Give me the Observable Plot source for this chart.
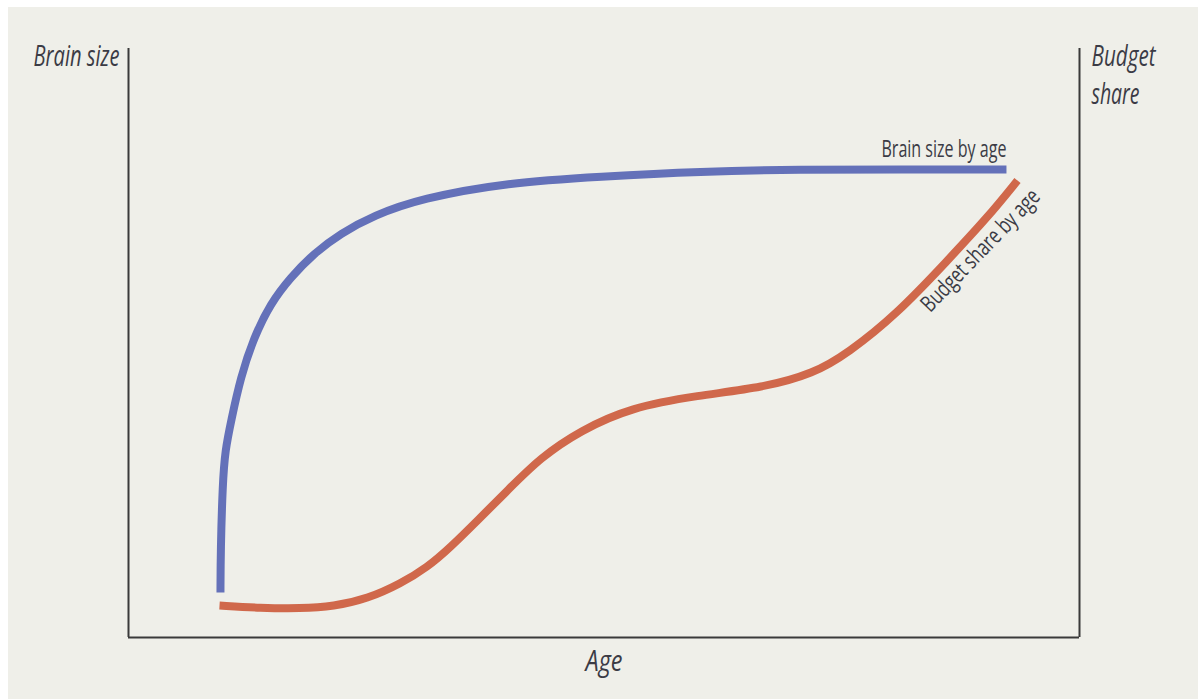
<!DOCTYPE html>
<html>
<head>
<meta charset="utf-8">
<script src="https://cdn.jsdelivr.net/npm/d3@7"></script>
<script src="https://cdn.jsdelivr.net/npm/@observablehq/plot@0.6"></script>
<style>
  html, body { margin: 0; padding: 0; background: #ffffff; }
  #chart { position: absolute; left: 8px; top: 7px; width: 1190px; height: 692px; background: #efefe9; overflow: hidden; }
  #chart svg { display: block; }
</style>
</head>
<body>
<div id="chart"></div>
<script>
// Age (0–100 relative units) vs brain size / budget share (0–100 relative units)
const brainAge  = [9.67, 9.69, 9.90, 10.16, 10.80, 11.78, 13.18, 14.93, 17.03, 19.48, 22.29, 25.79, 30.70, 39.85, 49.63, 60.15, 70.66, 81.18, 92.32];
const brainSize = [7.64, 14.77, 26.15, 31.75, 36.84, 44.14, 50.93, 56.71, 61.12, 65.20, 68.59, 71.65, 74.53, 77.25, 78.27, 79.12, 79.46, 79.46, 79.46];

const budgetAge   = [9.57, 13.88, 18.09, 21.56, 25.13, 28.60, 31.44, 33.86, 36.70, 39.85, 43.32, 47.53, 52.79, 59.83, 66.77, 72.03, 75.60, 80.86, 86.12, 90.33, 93.48];
const budgetShare = [5.43, 5.01, 4.92, 5.26, 6.57, 9.12, 11.94, 15.33, 19.86, 24.96, 30.56, 35.14, 39.05, 41.09, 42.44, 44.82, 48.22, 55.01, 64.01, 71.31, 77.59];

const seriesLabels = ["Brain size by age", "Budget share by age"];
const axisTitles = { left: "Brain size", right: "Budget\nshare", bottom: "Age" };

const brain = brainAge.map((a, i) => ({age: a, value: brainSize[i]}));
const budget = budgetAge.map((a, i) => ({age: a, value: budgetShare[i]}));
const rightLines = axisTitles.right.split("\n");

const FONT = "'Open Sans', 'Noto Sans', sans-serif";
const INK = "#3b3b45";
const AX = "#3a3a3a";

const chart = Plot.plot({
  width: 1190,
  height: 692,
  marginLeft: 120,
  marginRight: 119,
  marginTop: 41,
  marginBottom: 62,
  style: { background: "transparent", fontFamily: FONT, overflow: "visible" },
  x: { domain: [0, 100], axis: null },
  y: { domain: [0, 100], axis: null },
  marks: [
    Plot.ruleX([0, 100], { stroke: AX, strokeWidth: 2 }),
    Plot.ruleY([0], { stroke: AX, strokeWidth: 2 }),
    Plot.line(budget, { x: "age", y: "value", curve: "basis", stroke: "#d0684b", strokeWidth: 8, strokeLinecap: "butt", strokeLinejoin: "round" }),
    Plot.line(brain, { x: "age", y: "value", curve: "basis", stroke: "#6471b9", strokeWidth: 8, strokeLinecap: "butt", strokeLinejoin: "round" }),
    // series labels
    Plot.text([brain[brain.length - 1]], { x: "age", y: "value", text: () => seriesLabels[0], textAnchor: "end", lineAnchor: "bottom", dy: -12, fontSize: 23, fill: INK }),
    Plot.text([budget[budget.length - 2]], { x: "age", y: "value", text: () => seriesLabels[1], textAnchor: "middle", lineAnchor: "middle", rotate: -46, dx: -7, dy: 33, fontSize: 23, fill: INK }),
    // axis titles
    Plot.text([axisTitles.left], { frameAnchor: "top-left", text: d => d, textAnchor: "end", lineAnchor: "bottom", dx: -9, dy: 17, fontSize: 29, fontStyle: "italic", fill: INK }),
    Plot.text([rightLines[0]], { frameAnchor: "top-right", text: d => d, textAnchor: "start", lineAnchor: "bottom", dx: 12, dy: 17, fontSize: 29, fontStyle: "italic", fill: INK }),
    Plot.text([rightLines[1]], { frameAnchor: "top-right", text: d => d, textAnchor: "start", lineAnchor: "bottom", dx: 12, dy: 55, fontSize: 29, fontStyle: "italic", fill: INK }),
    Plot.text([axisTitles.bottom], { frameAnchor: "bottom", text: d => d, textAnchor: "middle", lineAnchor: "bottom", dy: 33, fontSize: 29, fontStyle: "italic", fill: INK })
  ]
});
// condense the type to the reference's narrow face
const widths = {"Brain size": 86, "Budget": 64, "share": 48, "Age": 37, "Brain size by age": 125, "Budget share by age": 160};
d3.select(chart).selectAll("text").each(function() {
  const w = widths[this.textContent];
  if (w) { this.setAttribute("textLength", w); this.setAttribute("lengthAdjust", "spacingAndGlyphs"); }
});
document.getElementById("chart").appendChild(chart);
</script>
</body>
</html>
